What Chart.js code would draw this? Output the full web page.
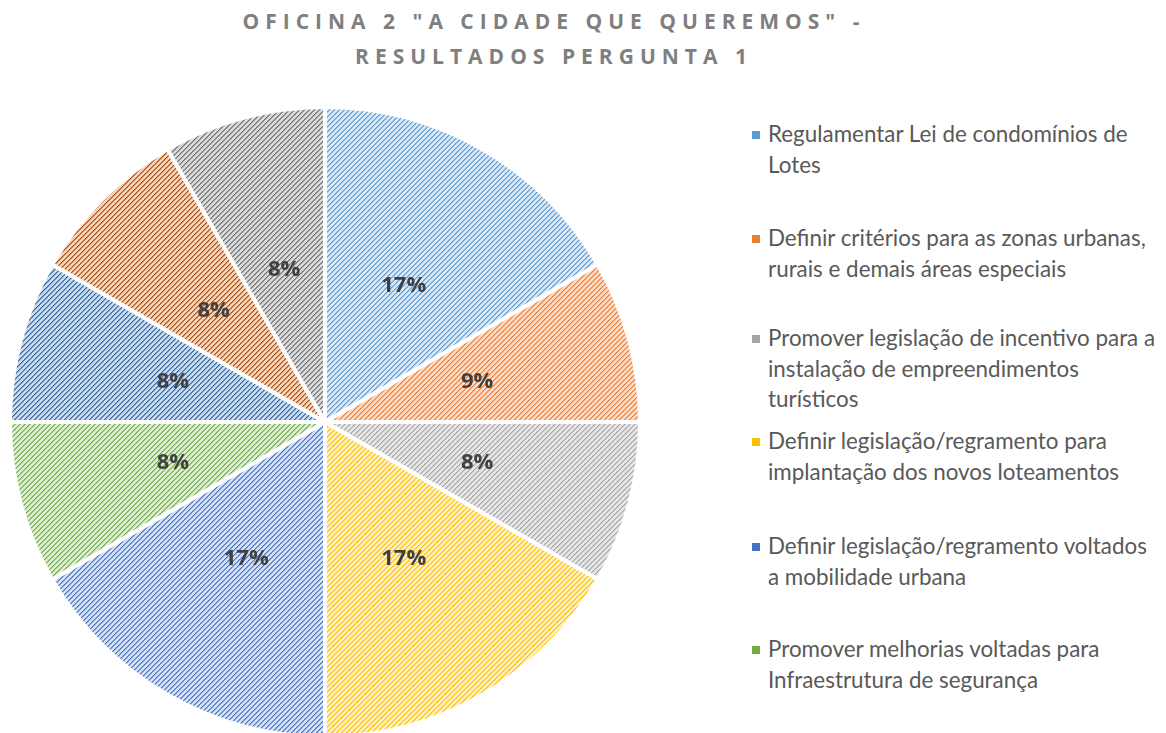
<!DOCTYPE html>
<html>
<head>
<meta charset="utf-8">
<script src="https://cdn.jsdelivr.net/npm/chart.js@4.4.1/dist/chart.umd.min.js"></script>
<style>
  html, body { margin: 0; padding: 0; background: #fff; overflow: hidden; }
  body { width: 1166px; height: 733px; position: relative; }
  #title {
    position: absolute; left: 0; top: 4px; width: 1108px;
    text-align: center; font-family: "Open Sans", Lato, sans-serif;
    font-weight: bold; font-size: 21px; color: #7f7f7f;
    letter-spacing: 6px; line-height: 35px;
  }
  #pie-box { position: absolute; left: 8px; top: 105px; width: 634px; height: 634px; }
  #legend { position: absolute; left: 750px; top: 119px; width: 416px;
    font-family: Lato, "Open Sans", sans-serif; font-size: 22.4px; color: #595959; }
  .item { position: absolute; left: 0; white-space: nowrap; line-height: 30.5px; }
  .item .box { position: absolute; left: 2px; top: 12px; width: 8px; height: 8px; }
  .item .txt { margin-left: 18px; }
</style>
</head>
<body>
<div id="title">OFICINA 2 "A CIDADE QUE QUEREMOS" -<br>RESULTADOS PERGUNTA 1</div>
<div id="pie-box"><canvas id="pieChart"></canvas></div>
<div id="legend"></div>
<script>
const categories = [
  ['Regulamentar Lei de condomínios de', 'Lotes'],
  ['Definir critérios para as zonas urbanas,', 'rurais e demais áreas especiais'],
  ['Promover legislação de incentivo para a', 'instalação de empreendimentos', 'turísticos'],
  ['Definir legislação/regramento para', 'implantação dos novos loteamentos'],
  ['Definir legislação/regramento voltados', 'a mobilidade urbana'],
  ['Promover melhorias voltadas para', 'Infraestrutura de segurança'],
  ['Categoria 7'],
  ['Categoria 8'],
  ['Categoria 9']
];
const responses = [2, 1, 1, 2, 2, 1, 1, 1, 1];
const percentLabels = ['17%', '9%', '8%', '17%', '17%', '8%', '8%', '8%', '8%'];
const legendShown = 6;

const stripeColors = ['#5B9BD5', '#ED7D31', '#A5A5A5', '#FFC000', '#4472C4', '#70AD47', '#2E64A0', '#A64E12', '#6E6E6E'];
const backColors   = ['#DAE8F6', '#FCDCC8', '#E6E6E6', '#FFF0C4', '#D6E0F3', '#DDEDD3', '#C9DAEE', '#F9D3B8', '#DADADA'];

function hexToRgb(h) {
  return [parseInt(h.slice(1, 3), 16), parseInt(h.slice(3, 5), 16), parseInt(h.slice(5, 7), 16)];
}

// wide upward diagonal hatch, like the Excel pattern fill
function makePattern(fg, bg) {
  const size = 5;
  const c = document.createElement('canvas');
  c.width = size; c.height = size;
  const cx = c.getContext('2d');
  const img = cx.createImageData(size, size);
  const f = hexToRgb(fg), b = hexToRgb(bg);
  const m = f.map((v, j) => Math.round((v + b[j]) / 2));
  for (let y = 0; y < size; y++) {
    for (let x = 0; x < size; x++) {
      const k = (x + y) % size;
      const col = k === 0 ? f : (k === 1 ? m : b);
      const i = (y * size + x) * 4;
      img.data[i] = col[0]; img.data[i + 1] = col[1]; img.data[i + 2] = col[2]; img.data[i + 3] = 255;
    }
  }
  cx.putImageData(img, 0, 0);
  return document.createElement('canvas').getContext('2d').createPattern(c, 'repeat');
}

const fills = stripeColors.map((c, i) => makePattern(c, backColors[i]));

const sliceLabels = {
  id: 'sliceLabels',
  afterDatasetsDraw(chart) {
    const ctx = chart.ctx;
    const meta = chart.getDatasetMeta(0);
    ctx.save();
    ctx.font = 'bold 22px "Open Sans", Lato, sans-serif';
    ctx.fillStyle = '#404040';
    ctx.textAlign = 'center';
    ctx.textBaseline = 'middle';
    meta.data.forEach((arc, i) => {
      const p = arc.getCenterPoint();
      ctx.fillText(percentLabels[i], p.x, p.y);
    });
    ctx.restore();
  }
};

new Chart(document.getElementById('pieChart'), {
  type: 'pie',
  data: {
    labels: categories,
    datasets: [{
      data: responses,
      backgroundColor: fills,
      borderColor: '#ffffff',
      borderWidth: 4
    }]
  },
  options: {
    responsive: true,
    maintainAspectRatio: false,
    animation: false,
    layout: { padding: 0 },
    plugins: {
      legend: { display: false },
      tooltip: { enabled: false },
      title: { display: false }
    }
  },
  plugins: [sliceLabels]
});

const legend = document.getElementById('legend');
const itemTops = [0, 104, 204, 307, 412, 515];
categories.slice(0, legendShown).forEach((lines, i) => {
  const item = document.createElement('div');
  item.className = 'item';
  item.style.top = itemTops[i] + 'px';
  const box = document.createElement('div');
  box.className = 'box';
  box.style.background = stripeColors[i];
  const txt = document.createElement('div');
  txt.className = 'txt';
  txt.innerHTML = lines.join('<br>');
  item.appendChild(box);
  item.appendChild(txt);
  legend.appendChild(item);
});
</script>
</body>
</html>
